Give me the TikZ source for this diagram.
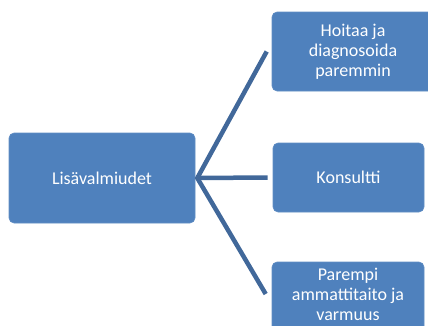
\documentclass[tikz,border=0pt]{standalone}
\usepackage{fontspec}
\setmainfont{Carlito}
\definecolor{boxblue}{HTML}{4F81BD}
\definecolor{lineblue}{HTML}{41689A}
\begin{document}
\begin{tikzpicture}[x=1pt,y=-1pt,
  box/.style={fill=boxblue, draw=boxblue!90!white, line width=0.6pt, rounded corners=5pt,
    text=white, font=\fontsize{18}{20}\selectfont, align=center, inner sep=0pt},
  lbl/.style={text=white, font=\fontsize{18}{20}\selectfont, align=center, inner sep=0pt},
  conn/.style={draw=lineblue, line width=4.5pt}]
\useasboundingbox (0,0) rectangle (428,325);
\clip (0,0) rectangle (428,325);
% boxes
\node[box, minimum width=186pt, minimum height=90pt] (main) at (102,178) {Lisävalmiudet};
\node[box, minimum width=162pt, minimum height=79pt] (top) at (353,51.5) {Hoitaa ja\\diagnosoida\\paremmin};
\node[box, minimum width=151pt, minimum height=69pt] (mid) at (348.5,177.5) {Konsultti};
\node[box, minimum width=152pt, minimum height=80pt] (bot) at (348,302) {};
\node[lbl] (botlbl) at (348,294) {Parempi\\ammattitaito ja\\varmuus};
% connectors
\coordinate (o) at ([xshift=2pt]main.east);
\draw[conn] ([xshift=-5pt]top.west) -- (o) -- ([shift={(-6pt,8pt)}]bot.west);
\draw[conn] (o) -- ([xshift=-5pt]mid.west);
\end{tikzpicture}
\end{document}
